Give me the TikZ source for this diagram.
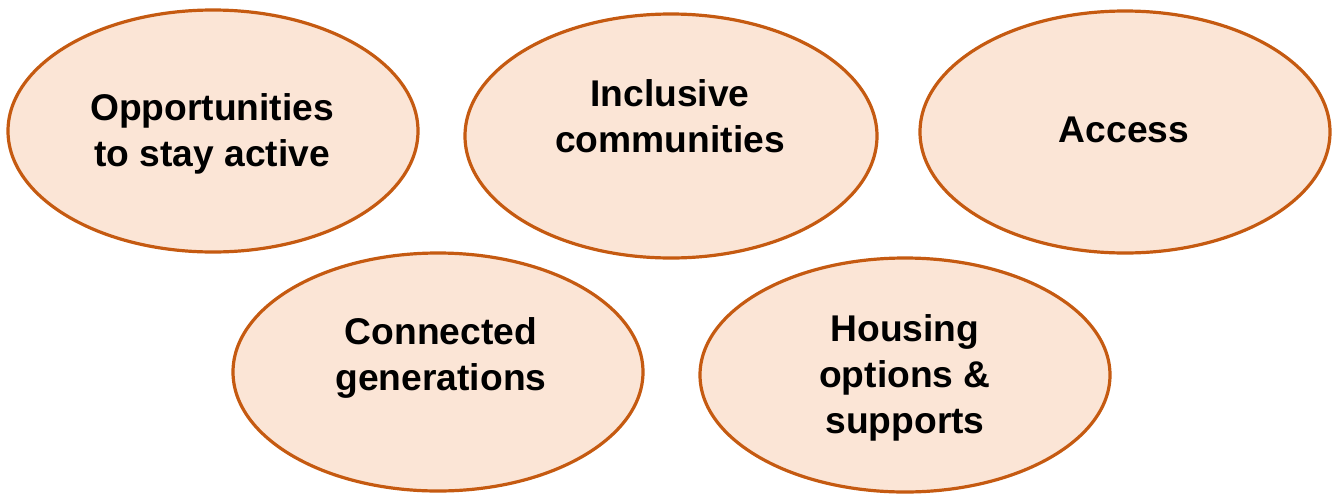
\documentclass[tikz,border=0pt]{standalone}
\usepackage{fontspec}
\setmainfont{Liberation Sans}
\usetikzlibrary{shapes.geometric}
\definecolor{ovalfill}{HTML}{FBE5D6}
\definecolor{ovaldraw}{HTML}{C55A11}
\begin{document}
\begin{tikzpicture}[x=1pt,y=-1pt,
  oval/.style={ellipse, draw=ovaldraw, fill=ovalfill, line width=3.2pt, inner sep=0pt},
  lbl/.style={align=center, inner sep=0pt, font=\fontsize{37.2}{46}\selectfont\bfseries}]
\useasboundingbox (0,0) rectangle (1333,493);
\node[oval, minimum width=410pt, minimum height=242pt] (e1) at (213,131) {};
\node[oval, minimum width=412pt, minimum height=244pt] (e2) at (671,136) {};
\node[oval, minimum width=410pt, minimum height=242pt] (e3) at (1125,132) {};
\node[oval, minimum width=410pt, minimum height=238pt] (e4) at (438,372) {};
\node[oval, minimum width=410pt, minimum height=234pt] (e5) at (905,375) {};
\node[lbl] (t1) at (212,134) {Opportunities\\to stay active};
\node[lbl] (t2) at (670,116.5) {Inclusive\\communities};
\node[lbl] (t3) at (1124,130) {Access};
\node[lbl] (t4) at (441,358) {Connected\\generations};
\node[lbl] (t5) at (905,378) {Housing\\options \&\\supports};
\end{tikzpicture}
\end{document}
